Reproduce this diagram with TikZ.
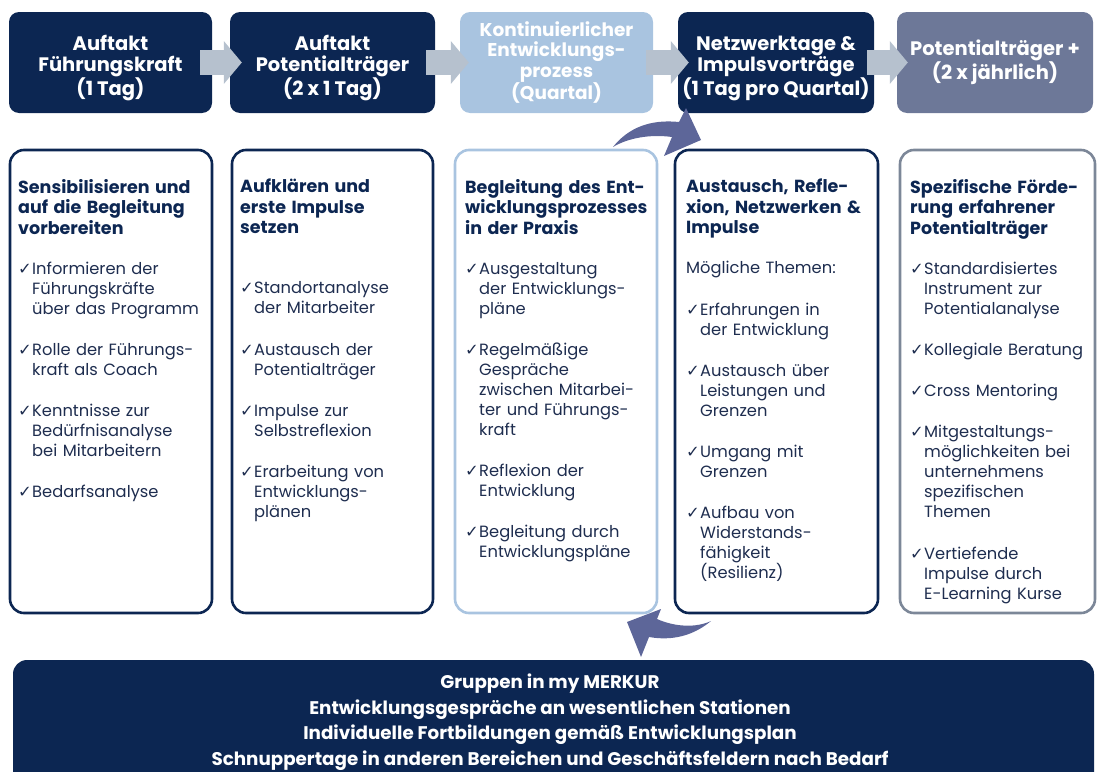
\documentclass[tikz,border=0pt]{standalone}
\usepackage{fontspec}
\setmainfont{Poppins}
\newfontfamily\chkfont{DejaVu Sans}
\usetikzlibrary{arrows.meta}

\definecolor{navy}{HTML}{0C2652}
\definecolor{paleblue}{HTML}{A9C4E0}
\definecolor{slate}{HTML}{6D7898}
\definecolor{flowgray}{HTML}{B6C1CE}
\definecolor{swoosh}{HTML}{5D6699}
\definecolor{bodytext}{HTML}{1E2D4F}
\definecolor{greyframe}{HTML}{7C8798}

\newcommand{\hd}[1]{{\color{navy}\bfseries\fontsize{17.5}{20.5}\selectfont #1\par}}
\newcommand{\chk}[1][21.2pt]{\par\vspace{#1}\hangindent=14pt\hangafter=1\noindent\makebox[14pt][l]{\chkfont\char"2713}}
\newcommand{\up}{\rule{0pt}{27pt}}

\begin{document}
\begin{tikzpicture}[x=1pt,y=1pt,yscale=-1,
  phase/.style={rounded corners=10pt, fill=navy, text=white, inner sep=0pt,
    font=\bfseries\fontsize{19.5}{21}\selectfont, align=center,
    minimum width=#1, minimum height=101},
  panel/.style={draw=navy, line width=2.6pt, rounded corners=14pt,
    minimum width=#1, minimum height=463},
  paneltext/.style={anchor=north west, inner sep=0pt, text width=205pt, align=left,
    text=bodytext, font=\fontsize{16.3}{20}\selectfont},
  flow/.style={draw=flowgray, line width=25pt, -{Triangle[length=18pt,width=42pt]}}]
\useasboundingbox (0,0) rectangle (1097,771);

% phases on top
\node [phase=203] (b1) at (110.5,62.5) {\up Auftakt\\Führungskraft\\(1 Tag)};
\node [phase=205] (b2) at (332.5,62.5) {\up Auftakt\\Potentialträger\\(2 x 1 Tag)};
\node [phase=193, fill=paleblue, font=\bfseries\fontsize{18.5}{20.5}\selectfont] (b3) at (556.5,62.5) {Kontinuierlicher\\Entwicklungs-\\prozess\\(Quartal)};
\node [phase=196] (b4) at (776,62.5) {\up Netzwerktage \&\\Impulsvorträge\\(1 Tag pro Quartal)};
\node [phase=196, fill=slate] (b5) at (995,62.5) {Potentialträger +\\(2 x jährlich)};

% flow arrows
\draw [flow] ([xshift=-12pt]b1.east) -- ([xshift=12pt]b2.west);
\draw [flow] ([xshift=-9pt]b2.east) -- ([xshift=9pt]b3.west);
\draw [flow] ([xshift=-7pt]b3.east) -- ([xshift=11pt]b4.west);
\draw [flow] ([xshift=-7pt]b4.east) -- ([xshift=11pt]b5.west);

% panels
\node [panel=202] (p1) at (111,381.5) {};
\node [panel=201] (p2) at (332.5,381.5) {};
\node [panel=202, draw=paleblue] (p3) at (556,381.5) {};
\node [panel=203] (p4) at (776.5,381.5) {};
\node [panel=195, draw=greyframe] (p5) at (997.5,381.5) {};

% panel texts
\node [paneltext] (t1) at (18,179) {\hd{Sensibilisieren und\\auf die Begleitung\\vorbereiten}
  \chk[20pt]Informieren der\newline Führungskräfte\newline über das Programm
  \chk Rolle der Führungs-\newline kraft als Coach
  \chk Kenntnisse zur\newline Bedürfnisanalyse\newline bei Mitarbeitern
  \chk Bedarfsanalyse\par};
\node [paneltext] (t2) at (240,179) {\hd{Aufklären und\\erste Impulse\\setzen}
  \chk[40pt]Standortanalyse\newline der Mitarbeiter
  \chk Austausch der\newline Potentialträger
  \chk Impulse zur\newline Selbstreflexion
  \chk Erarbeitung von\newline Entwicklungs-\newline plänen\par};
\node [paneltext] (t3) at (465,179) {\hd{Begleitung des Ent-\\wicklungsprozesses\\in der Praxis}
  \chk[20pt]Ausgestaltung\newline der Entwicklungs-\newline pläne
  \chk Regelmäßige\newline Gespräche\newline zwischen Mitarbei-\newline ter und Führungs-\newline kraft
  \chk Reflexion der\newline Entwicklung
  \chk Begleitung durch\newline Entwicklungspläne\par};
\node [paneltext] (t4) at (686,179) {\hd{Austausch, Refle-\\xion, Netzwerken \&\\Impulse}
  \vspace{20pt}\noindent Mögliche Themen:
  \chk Erfahrungen in\newline der Entwicklung
  \chk Austausch über\newline Leistungen und\newline Grenzen
  \chk Umgang mit\newline Grenzen
  \chk Aufbau von\newline Widerstands-\newline fähigkeit\newline (Resilienz)\par};
\node [paneltext] (t5) at (910,179) {\hd{Spezifische Förde-\\rung erfahrener\\Potentialträger}
  \chk[20pt]Standardisiertes\newline Instrument zur\newline Potentialanalyse
  \chk Kollegiale Beratung
  \chk Cross Mentoring
  \chk Mitgestaltungs-\newline möglichkeiten bei\newline unternehmens\newline spezifischen\newline Themen
  \chk Vertiefende\newline Impulse durch\newline E-Learning Kurse\par};

% bottom bar
\node [rounded corners=14pt, fill=navy, inner sep=0pt,
  minimum width=1081, minimum height=140] (bar) at (553.5,730) {};
\node [text=white, align=center, inner sep=0pt,
  font=\bfseries\fontsize{18.3}{25.5}\selectfont] (bartext) at (550,722)
  {Gruppen in my MERKUR\\Entwicklungsgespräche an wesentlichen Stationen\\Individuelle Fortbildungen gemäß Entwicklungsplan\\Schnuppertage in anderen Bereichen und Geschäftsfeldern nach Bedarf};

% curved arrows
\fill [swoosh] (613,147) .. controls (628,128) and (650,119) .. (679,122) -- (686,108)
  -- (701,140) -- (664,156) -- (672,137) .. controls (650,134) and (628,138) .. cycle;
\fill [swoosh] (711,621) .. controls (693,636) and (672,641) .. (649,637) -- (641,657)
  -- (627,622) -- (661,609) -- (657,619) .. controls (675,627) and (696,628) .. cycle;

\end{tikzpicture}
\end{document}
